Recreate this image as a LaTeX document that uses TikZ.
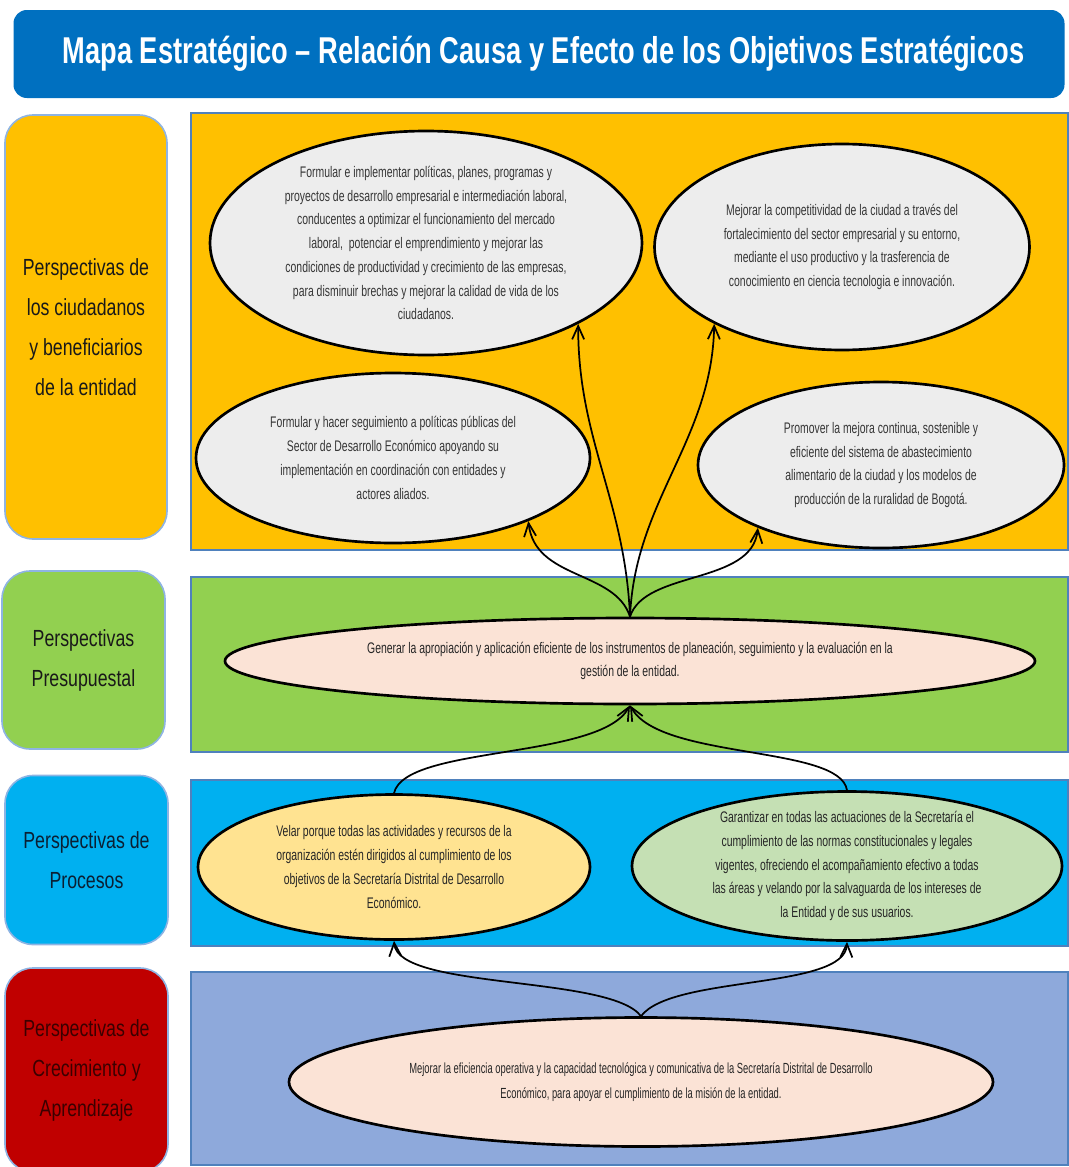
\documentclass[tikz,border=0pt]{standalone}
\usepackage{fontspec}
\setmainfont{Liberation Sans}
\newfontfamily\titlefont{Liberation Sans}[FakeStretch=0.73]
\newfontfamily\labfont{Liberation Sans}[FakeStretch=0.76]
\newfontfamily\ellfont{Liberation Sans}[FakeStretch=0.68]
\newfontfamily\tightfont{Liberation Sans}[FakeStretch=0.64]
\usetikzlibrary{arrows.meta,shapes.geometric}
\definecolor{titleblue}{HTML}{0070C0}
\definecolor{corange}{HTML}{FFC000}
\definecolor{cgreen}{HTML}{92D050}
\definecolor{cblue}{HTML}{00B0F0}
\definecolor{cred}{HTML}{C00000}
\definecolor{clav}{HTML}{8EA9DB}
\definecolor{bandline}{HTML}{4F81BD}
\definecolor{boxline}{HTML}{8EB4E3}
\definecolor{egray}{HTML}{EDEDED}
\definecolor{epeach}{HTML}{FBE3D6}
\definecolor{eyellow}{HTML}{FFE391}
\definecolor{egreen}{HTML}{C5E0B4}
\definecolor{etext}{HTML}{363636}
\definecolor{navytext}{HTML}{0B1F33}
\definecolor{redtext}{HTML}{3A0000}
\tikzset{
  band/.style={draw=bandline, line width=1.2pt},
  lab/.style={rounded corners=21pt, draw=boxline, line width=1.2pt, align=center,
    font={\labfont\fontsize{17.5pt}{30pt}\selectfont}, text=black!90, inner sep=0pt},
  obj/.style={ellipse, draw=black, line width=2pt, inner sep=-60pt, align=center,
    font={\ellfont\fontsize{11.5pt}{17.8pt}\selectfont}, text=etext},
  link/.style={line width=1.3pt, -{Straight Barb[length=10pt,width=9pt]}},
}
\begin{document}
\begin{tikzpicture}[x=0.75pt,y=-0.75pt]
\useasboundingbox (0,0) rectangle (1068,1167);
\fill[white] (0,0) rectangle (1068,1167);
% title
\node[fill=titleblue, rounded corners=10pt, minimum width=788.25pt, minimum height=66pt,
  text=white, font={\titlefont\bfseries\fontsize{28pt}{32pt}\selectfont}] (title) at (539,54)
  {\hspace*{7pt}Mapa Estratégico – Relación Causa y Efecto de los Objetivos Estratégicos};
% bands
\path[band, fill=corange] (191,113) rectangle (1068,550);
\path[band, fill=cgreen] (191,577) rectangle (1068,752);
\path[band, fill=cblue] (191,780) rectangle (1068,946);
\path[band, fill=clav] (191,972) rectangle (1068,1165);
% left labels
\node[lab, fill=corange, minimum width=121.5pt, minimum height=318pt] (l1) at (86,327)
  {Perspectivas de\\los ciudadanos\\y beneficiarios\\de la entidad};
\node[lab, fill=cgreen, minimum width=122.25pt, minimum height=133.5pt] (l2) at (83.5,660)
  {Perspectivas\\Presupuestal};
\node[lab, fill=cblue, minimum width=122.25pt, minimum height=126.75pt, text=navytext] (l3) at (86.5,860)
  {Perspectivas de\\Procesos};
\node[lab, fill=cred, minimum width=122.25pt, minimum height=153pt, text=redtext] (l4) at (86.5,1070)
  {Perspectivas de\\Crecimiento y\\Aprendizaje};
% objectives
\node[obj, fill=egray, minimum width=324pt, minimum height=168pt] (e1) at (426,243)
  {Formular e implementar políticas, planes, programas y\\
   proyectos de desarrollo empresarial e intermediación laboral,\\
   conducentes a optimizar el funcionamiento del mercado\\
   laboral,\ \ potenciar el emprendimiento y mejorar las\\
   condiciones de productividad y crecimiento de las empresas,\\
   para disminuir brechas y mejorar la calidad de vida de los\\
   ciudadanos.};
\node[obj, fill=egray, minimum width=281.25pt, minimum height=154.5pt] (e2) at (842,247)
  {Mejorar la competitividad de la ciudad a través del\\
   fortalecimiento del sector empresarial y su entorno,\\
   mediante el uso productivo y la trasferencia de\\
   conocimiento en ciencia tecnologia e innovación.};
\node[obj, fill=egray, minimum width=295.5pt, minimum height=127.5pt] (e3) at (393,458)
  {Formular y hacer seguimiento a políticas públicas del\\
   Sector de Desarrollo Económico apoyando su\\
   implementación en coordinación con entidades y\\
   actores aliados.};
\node[obj, fill=egray, minimum width=274.5pt, minimum height=124.5pt] (e4) at (881,465)
  {Promover la mejora continua, sostenible y\\
   eficiente del sistema de abastecimiento\\
   alimentario de la ciudad y los modelos de\\
   producción de la ruralidad de Bogotá.};
\node[obj, fill=epeach, minimum width=607.5pt, minimum height=64.5pt, text=black!85] (e5) at (630,661)
  {Generar la apropiación y aplicación eficiente de los instrumentos de planeación, seguimiento y la evaluación en la\\
   gestión de la entidad.};
\node[obj, fill=eyellow, minimum width=294pt, minimum height=108.75pt, text=black!85] (e6) at (394,867)
  {Velar porque todas las actividades y recursos de la\\
   organización estén dirigidos al cumplimiento de los\\
   objetivos de la Secretaría Distrital de Desarrollo\\
   Económico.};
\node[obj, fill=egreen, minimum width=322.5pt, minimum height=111.75pt, text=black!85] (e7) at (847,866)
  {Garantizar en todas las actuaciones de la Secretaría el\\
   cumplimiento de las normas constitucionales y legales\\
   vigentes, ofreciendo el acompañamiento efectivo a todas\\
   las áreas y velando por la salvaguarda de los intereses de\\
   la Entidad y de sus usuarios.};
\node[obj, fill=epeach, minimum width=528pt, minimum height=96.75pt, text=black!85,
  font={\tightfont\fontsize{11pt}{18.75pt}\selectfont}] (e8) at (641,1082)
  {Mejorar la eficiencia operativa y la capacidad tecnológica y comunicativa de la Secretaría Distrital de Desarrollo\\
   Económico, para apoyar el cumplimiento de la misión de la entidad.};
% connectors
\draw[link] (e5.north) .. controls (625,500) and (578,440) .. (e1.-28);
\draw[link] (e5.north) .. controls (635,500) and (712,440) .. (e2.-149);
\draw[link] (e5.north) .. controls (615,570) and (535,580) .. (e3.-25);
\draw[link] (e5.north) .. controls (645,570) and (752,585) .. (e4.-153);
\draw[link] (e6.north) .. controls (405,745) and (600,760) .. (e5.south);
\draw[link] (e7.north) .. controls (840,745) and (660,760) .. (e5.south);
\draw[link] (e8.north) .. controls (610,975) and (398,990) .. (e6.south);
\draw[link] (e8.north) .. controls (672,975) and (845,990) .. (e7.south);
\end{tikzpicture}
\end{document}
